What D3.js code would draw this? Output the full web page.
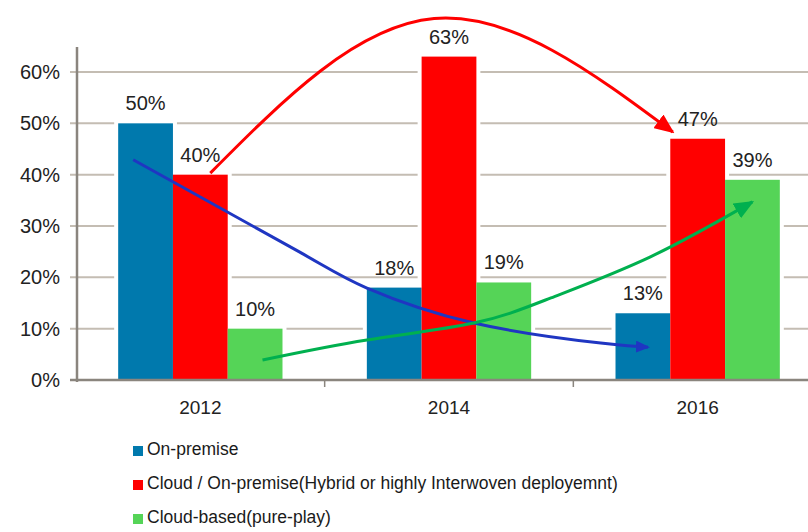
<!DOCTYPE html>
<html>
<head>
<meta charset="utf-8">
<script src="https://cdn.jsdelivr.net/npm/d3@7"></script>
<style>
  body { margin: 0; background: #fff; }
  svg { display: block; font-family: "Liberation Sans", Arial, sans-serif; }
</style>
</head>
<body>
<svg id="chart" width="808" height="532"></svg>
<script>
// data
var years = ["2012", "2014", "2016"];
var seriesNames = ["On-premise", "Cloud / On-premise(Hybrid or highly Interwoven deployemnt)", "Cloud-based(pure-play)"];
var seriesColors = ["#0079ad", "#ff0000", "#55d457"];
var onPremise = [50, 18, 13];
var hybrid = [40, 63, 47];
var cloudBased = [10, 19, 39];
var yTicks = [0, 10, 20, 30, 40, 50, 60];

// trend arrows, x in year-index units, y in percent
var redTrend = [[0.04, 40.3], [0.94, 70.4], [1.90, 48.3]];
var blueTrend = [[-0.27, 42.9], [0.40, 24.9], [0.67, 17.9], [1.10, 11.1], [1.61, 7.2], [1.80, 6.4]];
var greenTrend = [[0.25, 3.9], [0.67, 7.8], [1.10, 11.1], [1.41, 16.0], [1.81, 24.0], [2.22, 34.7]];

var values = [onPremise, hybrid, cloudBased];

var svg = d3.select("#chart");
var left = 77, bottom = 380;

var x0 = d3.scaleBand().domain(years).range([76, 822]).padding(0);
var x1 = d3.scaleBand().domain(d3.range(3)).range([0, x0.bandwidth()]).paddingOuter(0.77);
var y = d3.scaleLinear().domain([0, 60]).range([bottom, 72]);
var xi = d3.scaleLinear().domain([0, 2])
    .range([x0(years[0]) + x0.bandwidth() / 2, x0(years[2]) + x0.bandwidth() / 2]);

// gridlines
svg.append("g").selectAll("line")
    .data(yTicks.slice(1))
    .enter().append("line")
    .attr("x1", left - 7).attr("x2", 808)
    .attr("y1", function(d) { return y(d); })
    .attr("y2", function(d) { return y(d); })
    .attr("stroke", "#c4bdb3").attr("stroke-width", 2);

// white gap around each bar group
var groups = svg.append("g").selectAll("g")
    .data(years)
    .enter().append("g")
    .attr("transform", function(d) { return "translate(" + x0(d) + ",0)"; });

groups.selectAll("rect.gap")
    .data(function(d, i) { return values.map(function(s, k) { return {k: k, v: s[i]}; }); })
    .enter().append("rect")
    .attr("class", "gap")
    .attr("x", function(d) { return x1(d.k) - 4; })
    .attr("width", x1.bandwidth() + 8)
    .attr("y", function(d) { return y(d.v) - 3; })
    .attr("height", function(d) { return bottom - y(d.v) + 3; })
    .attr("fill", "#fff");

groups.selectAll("rect.bar")
    .data(function(d, i) { return values.map(function(s, k) { return {k: k, v: s[i]}; }); })
    .enter().append("rect")
    .attr("class", "bar")
    .attr("x", function(d) { return x1(d.k); })
    .attr("width", x1.bandwidth())
    .attr("y", function(d) { return y(d.v); })
    .attr("height", function(d) { return bottom - y(d.v); })
    .attr("fill", function(d) { return seriesColors[d.k]; });

groups.selectAll("text")
    .data(function(d, i) { return values.map(function(s, k) { return {k: k, v: s[i]}; }); })
    .enter().append("text")
    .attr("x", function(d) { return x1(d.k) + x1.bandwidth() / 2; })
    .attr("y", function(d) { return y(d.v) - 13; })
    .attr("text-anchor", "middle")
    .attr("font-size", 20)
    .attr("fill", "#222")
    .text(function(d) { return d.v + "%"; });

// axes
svg.append("line")
    .attr("x1", left).attr("x2", left)
    .attr("y1", 47).attr("y2", bottom + 2)
    .attr("stroke", "#8a857e").attr("stroke-width", 2.5);
svg.append("line")
    .attr("x1", left - 7).attr("x2", 808)
    .attr("y1", bottom).attr("y2", bottom)
    .attr("stroke", "#8a857e").attr("stroke-width", 2.5);

svg.append("g").selectAll("line")
    .data(years.slice(1))
    .enter().append("line")
    .attr("x1", function(d) { return x0(d); })
    .attr("x2", function(d) { return x0(d); })
    .attr("y1", bottom).attr("y2", bottom + 7)
    .attr("stroke", "#8a857e").attr("stroke-width", 1.5);

svg.append("g").selectAll("text")
    .data(yTicks)
    .enter().append("text")
    .attr("x", 60)
    .attr("y", function(d) { return y(d) + 7; })
    .attr("text-anchor", "end")
    .attr("font-size", 20)
    .attr("fill", "#222")
    .text(function(d) { return d + "%"; });

svg.append("g").selectAll("text")
    .data(years)
    .enter().append("text")
    .attr("x", function(d) { return x0(d) + x0.bandwidth() / 2; })
    .attr("y", 414)
    .attr("text-anchor", "middle")
    .attr("font-size", 19)
    .attr("fill", "#222")
    .text(function(d) { return d; });

// arrows
var defs = svg.append("defs");
function marker(id, color, len, wid) {
    defs.append("marker")
        .attr("id", id)
        .attr("markerUnits", "userSpaceOnUse")
        .attr("markerWidth", len).attr("markerHeight", wid)
        .attr("viewBox", "0 0 " + len + " " + wid)
        .attr("refX", len - 2).attr("refY", wid / 2)
        .attr("orient", "auto")
        .append("path")
        .attr("d", "M0,0L" + len + "," + (wid / 2) + "L0," + wid + "Z")
        .attr("fill", color);
}
marker("arRed", "#ff0000", 20, 17);
marker("arBlue", "#1f36c2", 14, 12);
marker("arGreen", "#00b04f", 20, 17);

var line = d3.line()
    .x(function(d) { return xi(d[0]); })
    .y(function(d) { return y(d[1]); })
    .curve(d3.curveNatural);

[[redTrend, "#ff0000", "arRed"], [blueTrend, "#1f36c2", "arBlue"], [greenTrend, "#00b04f", "arGreen"]]
    .forEach(function(t) {
        svg.append("path")
            .attr("d", line(t[0]))
            .attr("fill", "none")
            .attr("stroke", t[1])
            .attr("stroke-width", 3)
            .attr("marker-end", "url(#" + t[2] + ")");
    });

// legend
var legend = svg.append("g").selectAll("g")
    .data(seriesNames)
    .enter().append("g")
    .attr("transform", function(d, i) { return "translate(133," + (455 + i * 34) + ")"; });
legend.append("rect")
    .attr("x", 0).attr("y", -9)
    .attr("width", 10).attr("height", 10)
    .attr("fill", function(d, i) { return seriesColors[i]; });
legend.append("text")
    .attr("x", 14).attr("y", 0)
    .attr("font-size", 17.5)
    .attr("fill", "#1a1a1a")
    .text(function(d) { return d; });
</script>
</body>
</html>
